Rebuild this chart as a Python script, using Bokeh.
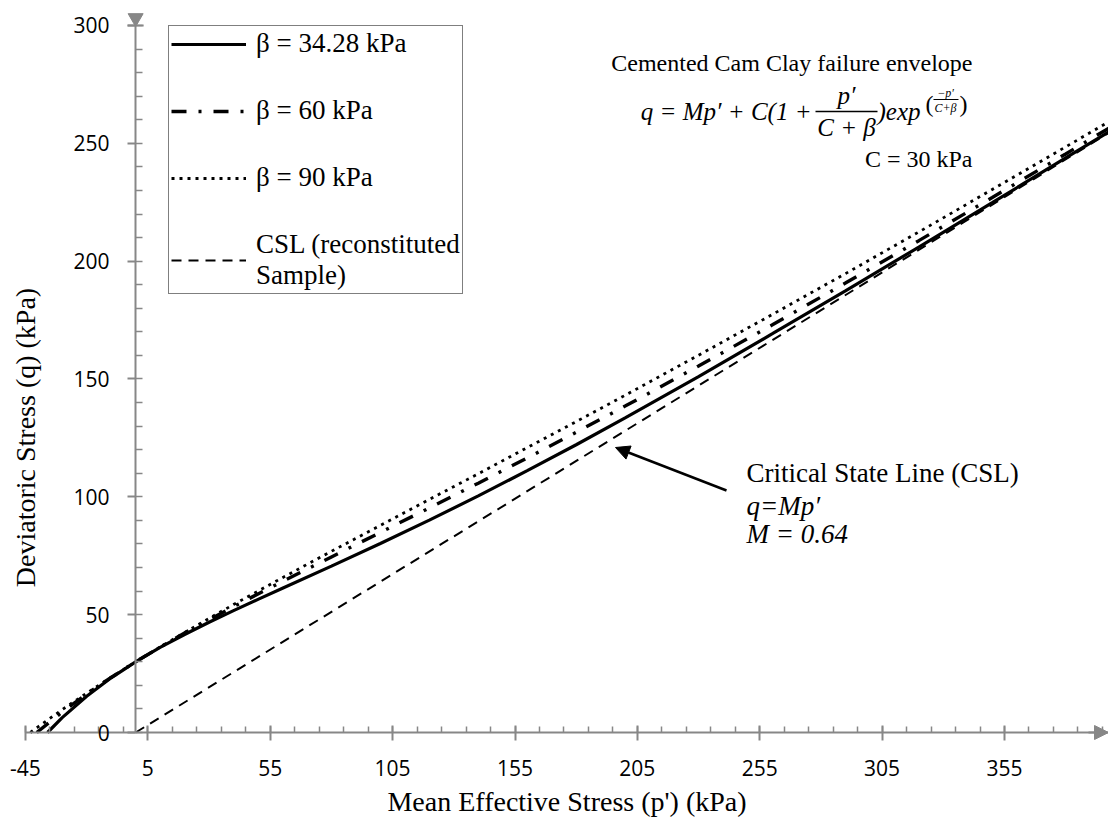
import math
from bokeh.plotting import figure
from bokeh.models import FixedTicker, Legend, LegendItem, Label, Arrow, NormalHead
from bokeh.embed import file_html
from bokeh.resources import INLINE

# ---------------- data ----------------
p_b34 = [-36, -30, -20, -10, 0, 10, 20, 30, 40, 50, 60, 80, 100, 120, 140, 160, 180, 200, 230, 260, 290, 320, 350, 380, 400]
q_b34 = [0.0, 6.3, 15.4, 23.2, 30.0, 36.1, 41.6, 46.8, 51.7, 56.5, 61.2, 70.6, 80.2, 90.1, 100.4, 111.1, 122.1, 133.5, 151.0, 169.1, 187.4, 206.0, 224.8, 243.8, 256.4]

p_b60 = [-40.4, -30, -20, -10, 0, 10, 20, 30, 40, 50, 60, 80, 100, 120, 140, 160, 180, 200, 230, 260, 290, 320, 350, 380, 400]
q_b60 = [0.0, 8.7, 16.3, 23.4, 30.0, 36.2, 42.2, 47.9, 53.4, 58.8, 64.1, 74.5, 84.9, 95.3, 105.8, 116.5, 127.4, 138.5, 155.5, 172.9, 190.7, 208.7, 227.0, 245.5, 257.9]

p_b90 = [-43, -40, -30, -20, -10, 0, 10, 20, 30, 40, 50, 60, 80, 100, 120, 140, 160, 180, 200, 230, 260, 290, 320, 350, 380, 400]
q_b90 = [0.0, 2.3, 9.7, 16.7, 23.5, 30.0, 36.3, 42.4, 48.4, 54.3, 60.0, 65.7, 76.9, 87.9, 98.9, 109.8, 120.9, 131.9, 143.1, 160.1, 177.3, 194.7, 212.4, 230.4, 248.5, 260.6]

p_csl = [0, 400]
q_csl = [0.0, 256.0]

series_labels = ["β = 34.28 kPa", "β = 60 kPa", "β = 90 kPa", "CSL (reconstituted\nSample)"]

x_major = [-45, 5, 55, 105, 155, 205, 255, 305, 355]
x_major_labels = ["-45", "5", "55", "105", "155", "205", "255", "305", "355"]
x_minor = list(range(-45, 400, 10))
y_major = [0, 50, 100, 150, 200, 250, 300]
y_minor = list(range(0, 301, 10))

# ---------------- layout helpers (screen pixel -> data) ----------------
W, H = 1108, 819
SX = 2.4475   # px per unit x
SY = 2.3567   # px per unit y


def X(px):
    return -45 + (px - 25) / SX


def Y(py):
    return (732 - py) / SY


X0, X1 = X(0), X(W)
Y0, Y1 = Y(H), Y(0)

GRAY = "#878787"
SERIF = "Liberation Serif"

p = figure(width=W, height=H, x_range=(X0, X1), y_range=(Y0, Y1), title=None,
           output_backend="svg", toolbar_location=None)
p.min_border = 0
p.outline_line_color = None
p.xgrid.visible = False
p.ygrid.visible = False
p.background_fill_color = "white"
p.border_fill_color = "white"

# ---------------- series ----------------
r1 = p.line(p_b34, q_b34, line_color="black", line_width=3.2)
r2 = p.line(p_b60, q_b60, line_color="black", line_width=3.4, line_dash="15 12 3 12")
r3 = p.line(p_b90, q_b90, line_color="black", line_width=2.8, line_dash="3 5")
r4 = p.line(p_csl, q_csl, line_color="black", line_width=2, line_dash="10 7")

# ---------------- axes (crossing at p'=0, q=0) ----------------
xa = p.xaxis[0]
xa.fixed_location = 0
xa.bounds = (x_major[0], X1)
xa.ticker = FixedTicker(ticks=x_major, minor_ticks=x_minor)
xa.major_label_overrides = {t: s for t, s in zip(x_major, x_major_labels)}
xa.axis_line_color = GRAY
xa.axis_line_width = 2
xa.major_tick_line_color = GRAY
xa.major_tick_line_width = 2
xa.major_tick_in = 7
xa.major_tick_out = 8
xa.minor_tick_line_color = GRAY
xa.minor_tick_line_width = 1.5
xa.minor_tick_in = 6
xa.minor_tick_out = 0
xa.major_label_text_font = "Open Sans"
xa.major_label_text_font_size = "21px"
xa.major_label_text_color = "black"
xa.major_label_standoff = 19
xa.axis_label = "Mean Effective Stress (p') (kPa)"
xa.axis_label_text_font = SERIF
xa.axis_label_text_font_size = "28px"
xa.axis_label_text_font_style = "normal"
xa.axis_label_text_color = "black"
xa.axis_label_standoff = 7

ya = p.yaxis[0]
ya.fixed_location = 0
ya.bounds = (0, 300)
ya.ticker = FixedTicker(ticks=y_major, minor_ticks=y_minor)
ya.axis_line_color = GRAY
ya.axis_line_width = 2
ya.major_tick_line_color = GRAY
ya.major_tick_line_width = 2
ya.major_tick_in = 0
ya.major_tick_out = 8
ya.minor_tick_line_color = GRAY
ya.minor_tick_line_width = 1.5
ya.minor_tick_in = 7
ya.minor_tick_out = 0
ya.major_label_text_font = "Open Sans"
ya.major_label_text_font_size = "21px"
ya.major_label_text_color = "black"
ya.major_label_standoff = 18

p.add_layout(Label(x=X(25), y=Y(437), text="Deviatoric Stress (q) (kPa)", angle=math.pi / 2,
                   text_font=SERIF, text_font_size="28px", text_align="center",
                   text_baseline="middle", text_color="black"))

# axis arrow heads
p.add_layout(Arrow(end=NormalHead(size=14, fill_color=GRAY, line_color=GRAY, line_width=1),
                   x_start=X(1088), y_start=0, x_end=X(1108), y_end=0,
                   line_color=GRAY, line_width=2))
p.scatter([0], [Y(17.5)], marker="inverted_triangle", size=15, color=GRAY)
p.scatter([0], [y_major[-1]], marker="dash", size=16, line_width=2, line_color=GRAY)

# ---------------- legend ----------------
legend = Legend(items=[LegendItem(label=series_labels[0], renderers=[r1]),
                       LegendItem(label=series_labels[1], renderers=[r2]),
                       LegendItem(label=series_labels[2], renderers=[r3]),
                       LegendItem(label=series_labels[3], renderers=[r4])],
                location=(168, H - 294))
legend.label_text_font = SERIF
legend.label_text_font_size = "27px"
legend.label_text_color = "black"
legend.label_text_line_height = 1.05
legend.glyph_width = 75
legend.glyph_height = 20
legend.label_standoff = 10
legend.spacing = 36
legend.padding = 2
legend.margin = 0
legend.border_line_color = "black"
legend.border_line_width = 1.3
legend.background_fill_alpha = 1.0
p.add_layout(legend)

# ---------------- annotations ----------------
def lab(text, px, py, size, align="left", style="normal", font=SERIF):
    p.add_layout(Label(x=X(px), y=Y(py), text=text, text_font=font, text_font_size=size,
                       text_font_style=style, text_align=align, text_baseline="middle",
                       text_color="black"))


lab("Cemented Cam Clay failure envelope", 972, 62, "24px", align="right")
# formula q = Mp' + C(1 + p'/(C+β)) exp(-p'/(C+β))
lab("q = Mp′ + C(1 +", 811, 111, "25px", align="right", style="italic")
lab("p′", 846, 95, "25px", align="center", style="italic")
lab("C + β", 846, 127, "25px", align="center", style="italic")
p.segment(x0=[X(815)], y0=[Y(111)], x1=[X(877)], y1=[Y(111)], line_color="black", line_width=1.5)
lab(")exp", 877, 111, "25px", align="left", style="italic")
lab("(", 925, 103, "24px", align="left", style="normal")
lab("−p′", 945, 92, "12px", align="center", style="italic")
lab("C+β", 945, 107, "12px", align="center", style="italic")
p.segment(x0=[X(933)], y0=[Y(99)], x1=[X(958)], y1=[Y(99)], line_color="black", line_width=1)
lab(")", 959, 103, "24px", align="left", style="normal")
lab("C = 30 kPa", 972, 158, "24px", align="right")

lab("Critical State Line (CSL)", 746, 472, "27px")
lab("q=Mp′", 746, 505, "27px", style="italic")
lab("M = 0.64", 746, 533, "27px", style="italic")

p.add_layout(Arrow(end=NormalHead(size=14, fill_color="black", line_color="black", line_width=1),
                   x_start=X(726), y_start=Y(490), x_end=X(615), y_end=Y(447),
                   line_color="black", line_width=2.5))

open("out.html", "w").write(file_html(p, INLINE))
